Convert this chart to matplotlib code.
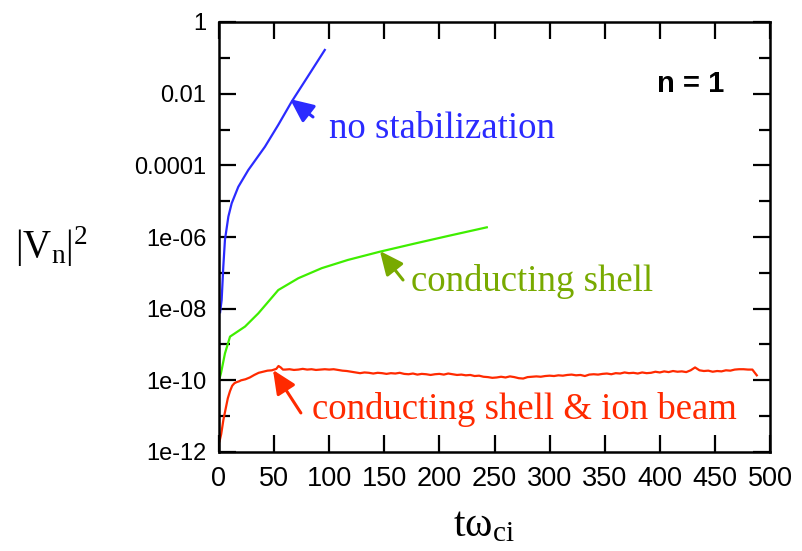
import numpy as np
import matplotlib
matplotlib.use("Agg")
import matplotlib.pyplot as plt
from matplotlib.ticker import FixedLocator, NullFormatter

plt.rcParams['font.family'] = ['Liberation Sans', 'DejaVu Sans']
plt.rcParams['mathtext.fontset'] = 'custom'
plt.rcParams['mathtext.rm'] = 'Liberation Serif'
plt.rcParams['mathtext.it'] = 'Liberation Serif:italic'

# 数据: 时间 t*omega_ci 与 log10(|V_n|^2)
t_nostab = [1, 2.4, 3.9, 5.4, 8.5, 11.5, 17.5, 26.6, 41.7, 53.8, 66, 80, 96]
log_nostab = [-8.1, -7.76, -6.83, -6.08, -5.43, -5.06, -4.6, -4.13, -3.48, -2.87, -2.22, -1.55, -0.78]

t_shell = [0.5, 1.8, 5.4, 10, 23.6, 35.7, 53.8, 72, 93.2, 117, 146, 178, 208, 243]
log_shell = [-9.95, -9.8, -9.25, -8.78, -8.5, -8.13, -7.48, -7.15, -6.87, -6.64, -6.41, -6.18, -5.97, -5.73]

t_beam = [0.5, 2, 4, 6, 8, 10, 12, 14, 16, 18, 20, 24, 28, 32, 36, 40, 44, 48, 52, 54, 56, 58]
t_beam += list(range(60, 485, 4)) + [486, 488]
log_beam = [-11.7, -11.5, -11.1, -10.8, -10.5, -10.3, -10.15, -10.08, -10.05, -10.03, -10.0,
            -9.97, -9.92, -9.85, -9.79, -9.76, -9.73, -9.72, -9.68, -9.60, -9.64, -9.70,
            -9.70, -9.69, -9.71, -9.70, -9.68, -9.70, -9.69, -9.71, -9.70, -9.69,
            -9.70, -9.69, -9.71, -9.73, -9.74, -9.76, -9.78, -9.80, -9.78, -9.79,
            -9.81, -9.79, -9.80, -9.82, -9.80, -9.81, -9.79, -9.82, -9.83, -9.81,
            -9.84, -9.82, -9.83, -9.85, -9.83, -9.82, -9.84, -9.81, -9.83, -9.85,
            -9.84, -9.86, -9.85, -9.88, -9.87, -9.90, -9.91, -9.93, -9.92, -9.90,
            -9.92, -9.89, -9.91, -9.94, -9.95, -9.91, -9.90, -9.89, -9.90, -9.88,
            -9.87, -9.88, -9.86, -9.87, -9.85, -9.84, -9.86, -9.85, -9.88, -9.84,
            -9.83, -9.84, -9.82, -9.81, -9.83, -9.80, -9.81, -9.78, -9.80, -9.79,
            -9.81, -9.78, -9.80, -9.79, -9.76, -9.78, -9.75, -9.77, -9.74, -9.76,
            -9.75, -9.77, -9.72, -9.64, -9.72, -9.74, -9.73, -9.76, -9.74, -9.75,
            -9.72, -9.73, -9.70, -9.69, -9.69, -9.70, -9.70, -9.78, -9.86]

x_ticks = [0, 50, 100, 150, 200, 250, 300, 350, 400, 450, 500]
y_major = [1, 1e-2, 1e-4, 1e-6, 1e-8, 1e-10, 1e-12]
y_major_labels = ['1', '0.01', '0.0001', '1e-06', '1e-08', '1e-10', '1e-12']
y_minor = [1e-1, 1e-3, 1e-5, 1e-7, 1e-9, 1e-11]

blue = '#2b2bff'
green_line = '#3fee00'
green_text = '#78aa00'
red = '#ff2a00'

fig = plt.figure(figsize=(8.02, 5.51), dpi=100)
ax = fig.add_axes([219 / 802, 1 - 452 / 551, 551 / 802, 430 / 551])

ax.plot(t_nostab, 10 ** np.array(log_nostab), color=blue, lw=1.6)
ax.plot(t_shell, 10 ** np.array(log_shell), color=green_line, lw=1.6)
ax.plot(t_beam, 10 ** np.array(log_beam), color=red, lw=1.6)

ax.set_yscale('log')
ax.set_xlim(0, 500)
ax.set_ylim(1e-12, 1)
ax.set_xticks(x_ticks)
ax.set_xticklabels([str(v) for v in x_ticks])
ax.yaxis.set_major_locator(FixedLocator(y_major))
ax.set_yticklabels(y_major_labels)
ax.yaxis.set_minor_locator(FixedLocator(y_minor))
ax.yaxis.set_minor_formatter(NullFormatter())

ax.tick_params(which='major', direction='in', length=12, width=1.6, top=True, right=True,
               labelsize=17, pad=9)
ax.tick_params(axis='x', labelsize=19.5, pad=10)
ax.tick_params(which='minor', direction='in', length=8, width=1.6, right=True, left=True)
for s in ax.spines.values():
    s.set_linewidth(1.8)

# 标注箭头
arrow_kw = dict(arrowstyle='-|>,head_length=0.55,head_width=0.25', lw=2.2, mutation_scale=26,
                shrinkA=0, shrinkB=0)
ax.annotate('', xy=(64.4, 10 ** -2.15), xytext=(85.3, 10 ** -2.65),
            arrowprops=dict(color=blue, **arrow_kw))
ax.annotate('', xy=(146, 10 ** -6.39), xytext=(167, 10 ** -7.2),
            arrowprops=dict(color=green_text, **arrow_kw))
ax.annotate('', xy=(49, 10 ** -9.71), xytext=(74.3, 10 ** -10.91),
            arrowprops=dict(color=red, **arrow_kw))

serif = ['Liberation Serif', 'DejaVu Serif']
ax.text(99.8, 10 ** -3.24, 'no stabilization', color=blue, fontsize=26.5,
        family=serif, ha='left', va='baseline')
ax.text(174, 10 ** -7.51, 'conducting shell', color=green_text, fontsize=26.5,
        family=serif, ha='left', va='baseline')
ax.text(84.4, 10 ** -11.08, 'conducting shell & ion beam', color=red, fontsize=26.5,
        family=serif, ha='left', va='baseline')
ax.text(397.5, 10 ** -1.95, 'n = 1', color='black', fontsize=21, fontweight='bold',
        ha='left', va='baseline')

fig.text(51 / 802, 1 - 247 / 551, r'|V$_\mathrm{n}$|$^\mathrm{2}$', fontsize=28,
         family=serif, ha='center', va='center')
fig.text(484 / 802, 1 - 536 / 551, r'tω$_\mathrm{ci}$', fontsize=30,
         family=serif, ha='center', va='baseline')

fig.savefig('out.png', dpi=100)
